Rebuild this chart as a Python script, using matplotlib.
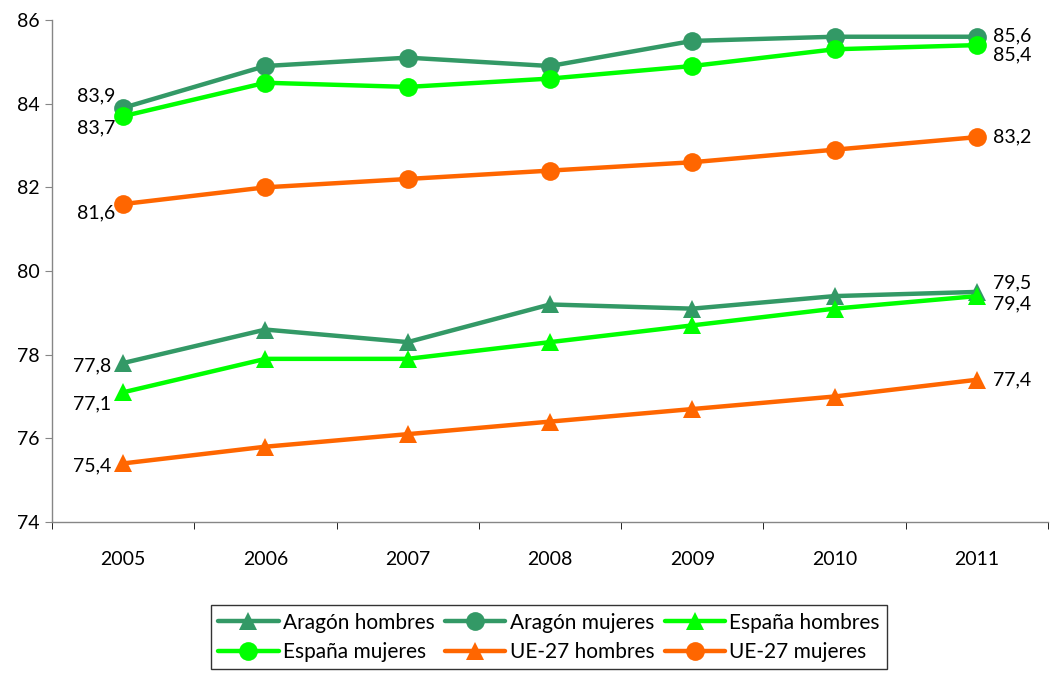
import matplotlib
matplotlib.use("Agg")
import matplotlib.pyplot as plt
import numpy as np

years = ["2005", "2006", "2007", "2008", "2009", "2010", "2011"]
aragon_hombres = [77.8, 78.6, 78.3, 79.2, 79.1, 79.4, 79.5]
aragon_mujeres = [83.9, 84.9, 85.1, 84.9, 85.5, 85.6, 85.6]
espana_hombres = [77.1, 77.9, 77.9, 78.3, 78.7, 79.1, 79.4]
espana_mujeres = [83.7, 84.5, 84.4, 84.6, 84.9, 85.3, 85.4]
ue_hombres = [75.4, 75.8, 76.1, 76.4, 76.7, 77.0, 77.4]
ue_mujeres = [81.6, 82.0, 82.2, 82.4, 82.6, 82.9, 83.2]
y_ticks = [74, 76, 78, 80, 82, 84, 86]

c_aragon = "#339966"
c_espana = "#00FF00"
c_ue = "#FF6600"

plt.rcParams['font.family'] = ['Lato', 'DejaVu Sans']

fig = plt.figure(figsize=(10.5, 6.77), dpi=100)
ax = fig.add_axes([52/1050, 1 - 522/677, (1048-52)/1050, (522-20)/677])

x = np.arange(len(years))
series = [
    ("Aragón hombres", aragon_hombres, c_aragon, "^", 13),
    ("Aragón mujeres", aragon_mujeres, c_aragon, "o", 13.5),
    ("España hombres", espana_hombres, c_espana, "^", 13),
    ("España mujeres", espana_mujeres, c_espana, "o", 13.5),
    ("UE-27 hombres", ue_hombres, c_ue, "^", 13),
    ("UE-27 mujeres", ue_mujeres, c_ue, "o", 13.5),
]
handles = {}
for name, vals, col, m, ms in series:
    h, = ax.plot(x, vals, color=col, lw=3.2, marker=m, markersize=ms,
                 markeredgewidth=0, label=name, solid_capstyle='round')
    handles[name] = h

ax.set_xlim(-0.5, len(years) - 0.5)
ax.set_ylim(74, 86)
ax.set_yticks(y_ticks)
ax.set_yticklabels([str(t) for t in y_ticks], fontsize=14)
ax.set_xticks(x)
ax.set_xticklabels(years, fontsize=14)
ax.set_xticks(np.arange(-0.5, len(years)), minor=True)
ax.tick_params(axis='x', which='major', length=0, pad=21)
ax.tick_params(axis='x', which='minor', length=5, direction='out')
ax.tick_params(axis='y', length=5, direction='out', pad=4)
for s in ['top', 'right']:
    ax.spines[s].set_visible(False)
for s in ['left', 'bottom']:
    ax.spines[s].set_color('#868686')
    ax.spines[s].set_linewidth(1)
ax.tick_params(colors='#868686', labelcolor='black')

px = 72 / 100.0  # points per pixel
def lab(xi, val, dx, dy, ha):
    ax.annotate(f"{val:.1f}".replace('.', ','), (xi, val),
                xytext=(dx * px, dy * px), textcoords='offset points',
                ha=ha, va='center', fontsize=14)

# left labels (dx,dy in pixels, dy positive up)
lab(0, aragon_mujeres[0], -8, 12, 'right')
lab(0, espana_mujeres[0], -8, -12, 'right')
lab(0, ue_mujeres[0], -8, -9, 'right')
lab(0, aragon_hombres[0], -12, -3, 'right')
lab(0, espana_hombres[0], -12, -12, 'right')
lab(0, ue_hombres[0], -12, -2, 'right')
# right labels
n = len(years) - 1
lab(n, aragon_mujeres[n], 16, 1, 'left')
lab(n, espana_mujeres[n], 16, -10, 'left')
lab(n, ue_mujeres[n], 16, 0, 'left')
lab(n, aragon_hombres[n], 16, 9, 'left')
lab(n, espana_hombres[n], 16, -8, 'left')
lab(n, ue_hombres[n], 16, 0, 'left')

order = ["Aragón hombres", "España mujeres", "Aragón mujeres",
         "UE-27 hombres", "España hombres", "UE-27 mujeres"]
leg = fig.legend([handles[k] for k in order], order, ncol=3,
                 loc='lower center', bbox_to_anchor=(549/1050, -0.004),
                 fontsize=15, frameon=True, fancybox=False,
                 handlelength=2.9, handletextpad=0.2, columnspacing=0.5,
                 labelspacing=0.45, borderpad=0.35)
leg.get_frame().set_edgecolor('black')
leg.get_frame().set_linewidth(1)

fig.savefig("out.png", dpi=100)
